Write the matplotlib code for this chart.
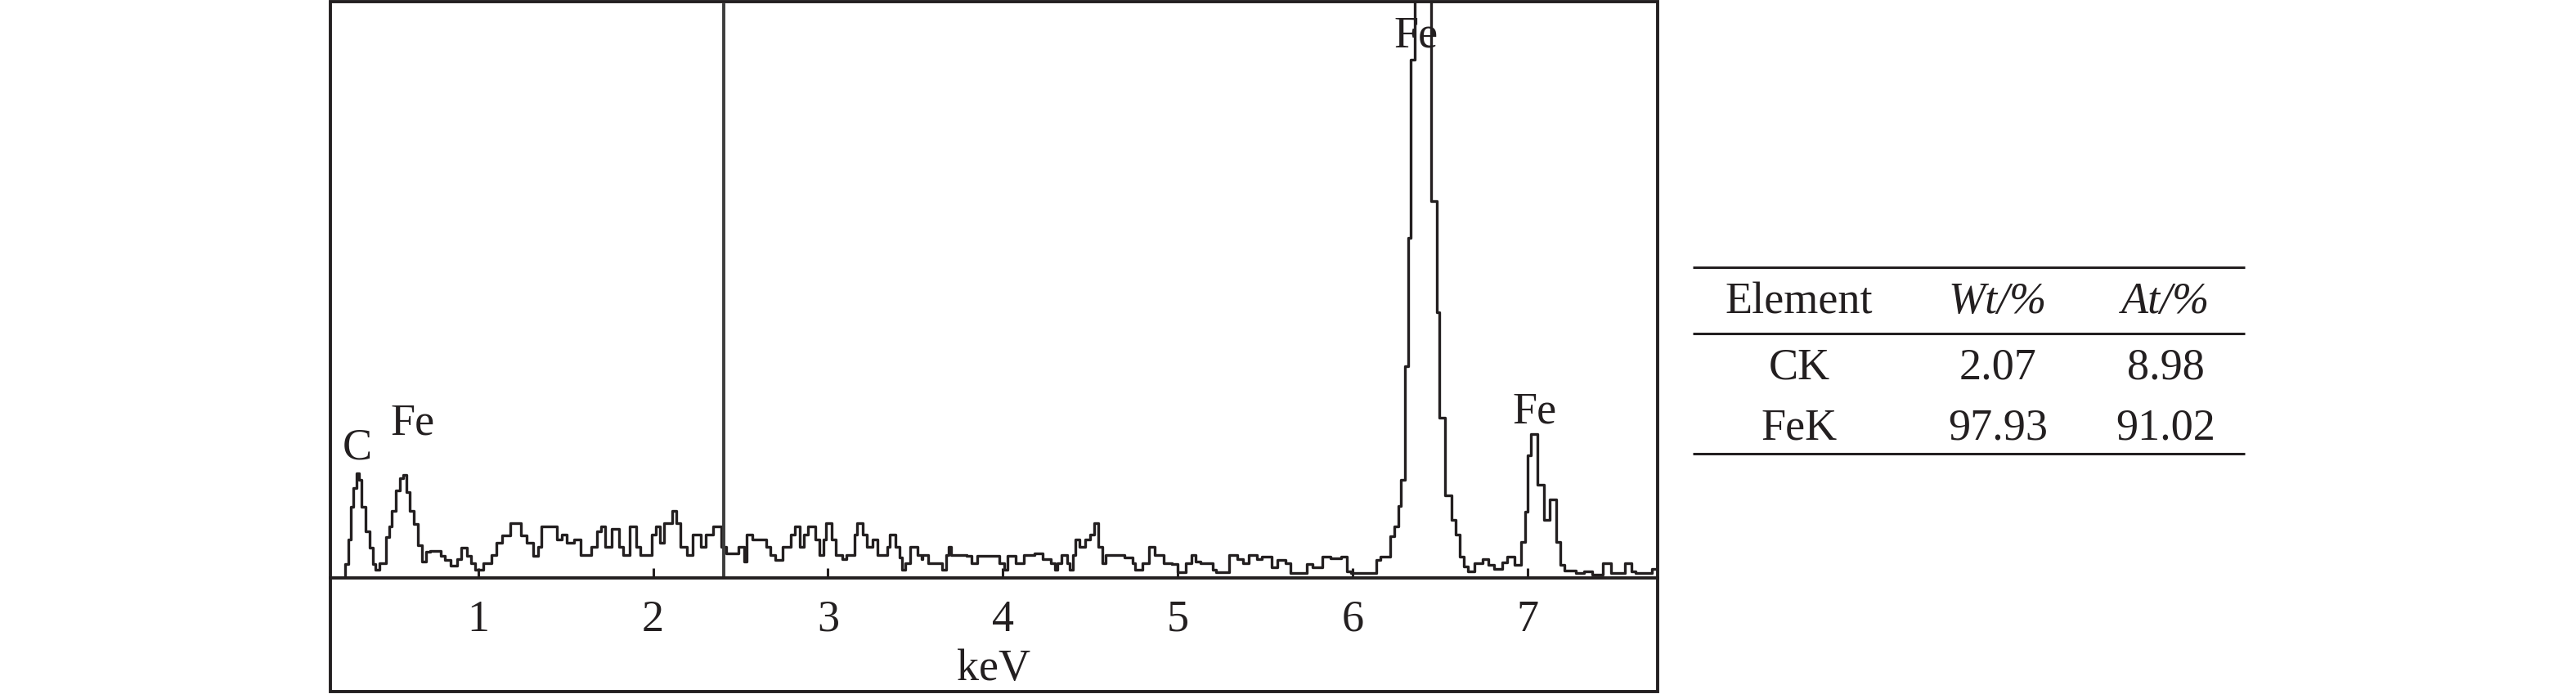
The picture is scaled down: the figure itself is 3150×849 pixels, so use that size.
import matplotlib
matplotlib.use('Agg')
import matplotlib.pyplot as plt
from matplotlib.patches import Rectangle

# EDS spectrum (step plot, counts in arbitrary units)
energy = [0.154, 0.240, 0.256, 0.271, 0.287, 0.302, 0.318, 0.334, 0.357, 0.380,
          0.396, 0.412, 0.435, 0.474, 0.490, 0.505, 0.529, 0.552, 0.572, 0.591,
          0.610, 0.630, 0.653, 0.677, 0.700, 0.723, 0.786, 0.809, 0.840, 0.879,
          0.903, 0.934, 0.957, 0.981, 1.027, 1.074, 1.105, 1.137, 1.183, 1.246,
          1.277, 1.316, 1.340, 1.363, 1.448, 1.480, 1.508, 1.547, 1.586, 1.648,
          1.679, 1.702, 1.726, 1.765, 1.804, 1.827, 1.866, 1.905, 1.929, 1.991,
          2.014, 2.038, 2.061, 2.108, 2.131, 2.155, 2.194, 2.225, 2.272, 2.303,
          2.342, 2.388, 2.420, 2.490, 2.521, 2.537, 2.568, 2.646, 2.669, 2.700,
          2.739, 2.786, 2.809, 2.841, 2.864, 2.887, 2.926, 2.950, 2.973, 2.989,
          3.020, 3.043, 3.082, 3.106, 3.152, 3.168, 3.199, 3.223, 3.254, 3.285,
          3.340, 3.355, 3.386, 3.410, 3.425, 3.441, 3.472, 3.511, 3.534, 3.542,
          3.573, 3.651, 3.675, 3.690, 3.706, 3.792, 3.823, 3.854, 3.979, 4.010,
          4.026, 4.072, 4.119, 4.181, 4.228, 4.275, 4.298, 4.314, 4.337, 4.368,
          4.384, 4.400, 4.415, 4.439, 4.470, 4.501, 4.524, 4.548, 4.571, 4.587,
          4.696, 4.743, 4.758, 4.797, 4.836, 4.867, 4.922, 4.969, 5.000, 5.047,
          5.078, 5.101, 5.132, 5.203, 5.218, 5.296, 5.343, 5.374, 5.405, 5.452,
          5.483, 5.538, 5.569, 5.616, 5.647, 5.741, 5.772, 5.827, 5.873, 5.936,
          5.967, 5.990, 6.138, 6.162, 6.216, 6.240, 6.263, 6.279, 6.302, 6.318,
          6.333, 6.357, 6.404, 6.450, 6.482, 6.497, 6.528, 6.567, 6.591, 6.614,
          6.637, 6.661, 6.700, 6.746, 6.778, 6.809, 6.856, 6.887, 6.926, 6.965,
          6.988, 7.004, 7.019, 7.058, 7.097, 7.128, 7.167, 7.191, 7.214, 7.277,
          7.323, 7.370, 7.432, 7.479, 7.557, 7.596, 7.620, 7.713]
counts = [0, 17, 47, 87, 110, 128, 120, 87, 57, 37,
          17, 10, 18, 50, 63, 82, 107, 122, 126, 105,
          82, 66, 40, 20, 32, 33, 27, 22, 15, 23,
          37, 27, 18, 10, 18, 28, 43, 52, 67, 52,
          43, 27, 38, 63, 47, 53, 43, 47, 28, 38,
          57, 63, 38, 60, 38, 28, 63, 38, 28, 53,
          63, 43, 67, 82, 67, 38, 28, 53, 38, 53,
          63, 38, 30, 38, 20, 53, 47, 38, 28, 22,
          38, 53, 63, 38, 53, 63, 47, 28, 47, 67,
          47, 28, 23, 28, 53, 67, 53, 38, 47, 28,
          38, 53, 38, 25, 10, 18, 38, 28, 23, 28,
          18, 10, 28, 38, 28, 27, 18, 27, 18, 10,
          27, 18, 28, 30, 23, 18, 10, 18, 28, 18,
          10, 28, 47, 38, 47, 53, 67, 38, 18, 28,
          25, 18, 10, 18, 38, 28, 18, 17, 7, 18,
          28, 20, 18, 10, 7, 28, 23, 18, 28, 23,
          26, 13, 22, 18, 6, 17, 13, 26, 24, 26,
          8, 6, 22, 26, 51, 63, 88, 120, 259, 416,
          634, 780, 850, 461, 325, 196, 101, 71, 53, 26,
          14, 8, 18, 23, 16, 11, 19, 26, 16, 44,
          81, 150, 176, 114, 71, 96, 44, 16, 9, 6,
          8, 4, 18, 6, 18, 8, 6, 11]
x_min, x_max = 0.154, 7.746
y_top = 705

tick_pos = [1, 2, 3, 4, 5, 6, 7]
tick_labels = ['1', '2', '3', '4', '5', '6', '7']
marker_x = 2.405

peak_names = ['C', 'Fe', 'Fe', 'Fe']
peak_x = [0.309, 0.622, 6.366, 7.044]
peak_y = [145, 175, 650, 189]

table_head = ['Element', 'Wt/%', 'At/%']
table_elem = ['CK', 'FeK']
table_wt = ['2.07', '97.93']
table_at = ['8.98', '91.02']

ink = '#231f20'
serif = 'Liberation Serif'
fs = 39

W, H = 3150, 849
fig = plt.figure(figsize=(W / 100, H / 100), dpi=100)

# spectrum axes: from the x axis line up to the top of the frame
ax = fig.add_axes([404 / W, (H - 707) / H, (2027 - 404) / W, (707 - 2) / H])
ax.step(energy + [x_max], counts + [counts[-1]], where='post', color=ink, lw=2.4)
ax.axvline(marker_x, ymin=0, ymax=0.995, color='#3d3d3d', lw=2.8)
ax.set_xlim(x_min, x_max)
ax.set_ylim(0, y_top)
for s in ['top', 'left', 'right']:
    ax.spines[s].set_visible(False)
ax.spines['bottom'].set_linewidth(2.8)
ax.spines['bottom'].set_color(ink)
ax.set_yticks([])
ax.set_xticks(tick_pos)
ax.set_xticklabels(tick_labels, fontfamily=serif, fontsize=fs, color=ink)
ax.tick_params(axis='x', direction='in', length=8.6, width=2.2, color=ink, pad=19)
ax.set_xlabel('keV', fontfamily=serif, fontsize=fs, color=ink, labelpad=7)

for name, px, py in zip(peak_names, peak_x, peak_y):
    ax.text(px, py, name, ha='center', va='baseline', fontfamily=serif,
            fontsize=fs, color=ink, clip_on=False)

# outer frame around the spectrum
fig.patches.append(Rectangle((404 / W, 3 / H), (2027 - 404) / W, 844 / H,
                             transform=fig.transFigure, fill=False,
                             lw=2.8, edgecolor=ink))

# composition table
tax = fig.add_axes([2070 / W, (H - 555) / H, (2745 - 2070) / W, (555 - 327) / H])
tax.set_xlim(2070, 2745)
tax.set_ylim(555, 327)
tax.axis('off')
for yy in [327, 408, 555]:
    tax.plot([2070, 2745], [yy, yy], color=ink, lw=2.2, solid_capstyle='butt',
             clip_on=False)
col_x = [2200, 2443, 2648]
styles = ['normal', 'italic', 'italic']
for cx, txt, st in zip(col_x, table_head, styles):
    tax.text(cx, 383, txt, ha='center', va='baseline', fontfamily=serif,
             fontstyle=st, fontsize=fs, color=ink)
for row_y, el, wt, at in zip([463, 538], table_elem, table_wt, table_at):
    for cx, txt in zip(col_x, [el, wt, at]):
        tax.text(cx, row_y, txt, ha='center', va='baseline', fontfamily=serif,
                 fontsize=fs, color=ink)

fig.savefig('out.png', dpi=100, facecolor='white')
